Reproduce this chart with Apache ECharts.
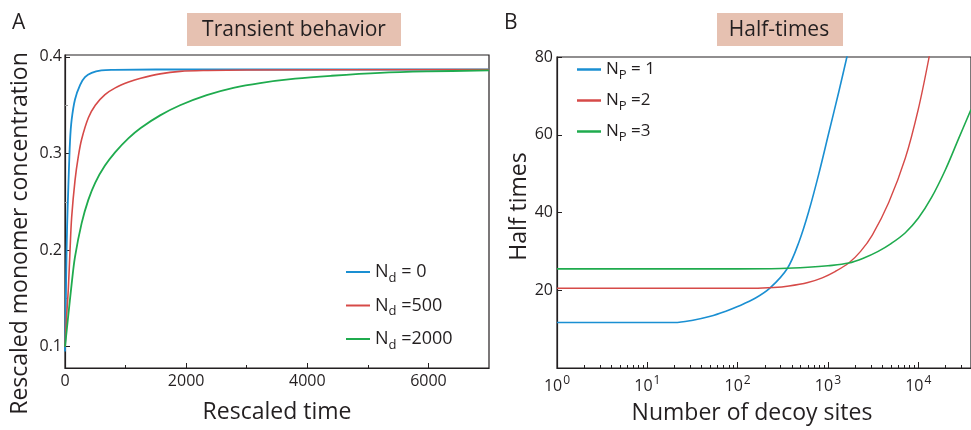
<!DOCTYPE html>
<html>
<head>
<meta charset="utf-8">
<script src="https://cdn.jsdelivr.net/npm/echarts@6/dist/echarts.min.js"></script>
<style>html,body{margin:0;padding:0;background:#fff;}#c{width:971px;height:430px;}</style>
</head>
<body>
<div id="c"></div>
<script>
// ---------- Panel A data: rescaled time vs rescaled monomer concentration ----------
const timeNd0 = [0, 10, 20, 35, 55, 83, 110, 165, 250, 330, 440, 600, 800, 1500, 7000];
const concNd0 = [0.095, 0.13, 0.175, 0.225, 0.265, 0.313, 0.335, 0.356, 0.371, 0.379, 0.3835, 0.386, 0.3866, 0.387, 0.387];

const timeNd500 = [0, 25, 55, 83, 110, 165, 220, 276, 386, 500, 660, 830, 1050, 1250, 1570, 1900, 2350, 3000, 7000];
const concNd500 = [0.10, 0.13, 0.16, 0.20, 0.234, 0.272, 0.297, 0.315, 0.337, 0.350, 0.361, 0.368, 0.374, 0.378, 0.3825, 0.385, 0.386, 0.3865, 0.387];

const timeNd2000 = [0, 50, 110, 165, 275, 385, 500, 660, 830, 1050, 1250, 1570, 1900, 2340, 2780, 3220, 3800, 4400, 5200, 6000, 7000];
const concNd2000 = [0.10, 0.13, 0.165, 0.193, 0.228, 0.252, 0.270, 0.2875, 0.3015, 0.316, 0.3265, 0.3395, 0.350, 0.3605, 0.368, 0.373, 0.3775, 0.3805, 0.3835, 0.385, 0.386];

// ---------- Panel B data: number of decoy sites vs half times ----------
const sitesNp1 = [1, 20, 32, 50, 74, 100, 158, 229, 355, 479, 617, 794, 1023, 1318, 1622, 1778];
const halfNp1  = [11.7, 11.7, 12.3, 13.3, 14.6, 15.8, 18.0, 20.6, 25.6, 32.5, 40.5, 50, 60.5, 71, 80, 84];

const sitesNp2 = [1, 20, 150, 250, 370, 600, 865, 1200, 1700, 2300, 3100, 4700, 7200, 10000, 13200, 14000];
const halfNp2  = [20.5, 20.5, 20.5, 20.7, 21.1, 22.0, 23.2, 24.8, 27.0, 30.0, 34.2, 42.5, 54, 66.5, 80, 84];

const sitesNp3 = [1, 100, 300, 600, 1000, 1700, 2500, 3600, 5000, 7200, 10000, 14000, 20000, 28000, 38400];
const halfNp3  = [25.5, 25.5, 25.6, 25.9, 26.3, 27.0, 28.3, 30.0, 32.0, 34.8, 38.5, 43.8, 51.0, 59, 66.5];

// ---------- Tick labels ----------
const xTicksA = [0, 2000, 4000, 6000];
const xMinorA = [1000, 3000, 5000];
const yTicksA = [0.1, 0.2, 0.3, 0.4];
const yMinorA = [0.15, 0.25, 0.35];
const xTicksB = [1, 10, 100, 1000, 10000];
const xMinorB = [2,3,4,5,6,7,8,9,20,30,40,50,60,70,80,90,200,300,400,500,600,700,800,900,2000,3000,4000,5000,6000,7000,8000,9000,20000,30000];
const yTicksB = [20, 40, 60, 80];

const namesA = ['N_d = 0', 'N_d =500', 'N_d =2000'];
const namesB = ['N_P = 1', 'N_P =2', 'N_P =3'];

const colBlue = '#1a8fd2', colRed = '#d64a48', colGreen = '#1fab4e';
const ink = '#231f20';
const FF = '"Open Sans", "Noto Sans", sans-serif';

function pairs(xs, ys) { return xs.map((x, i) => [x, ys[i]]); }
function legendFmt(name) {
  const m = name.match(/^N_(\w)(.*)$/);
  return 'N{sub|' + m[1] + '}' + m[2];
}
const subRich = { sub: { fontSize: 13, fontFamily: FF, color: ink, padding: [12, 0, 0, 0] } };

const chart = echarts.init(document.getElementById('c'), null, { renderer: 'canvas' });

const lblStyle = { color: ink, fontSize: 16, fontFamily: FF };
const axLine = { show: true, lineStyle: { color: ink, width: 1.2 } };

function lineSeries(name, xi, yi, data, color, width) {
  return { name, type: 'line', xAxisIndex: xi, yAxisIndex: yi, data, showSymbol: false, symbol: 'none',
    smooth: 0.35, lineStyle: { color, width }, itemStyle: { color } };
}

const option = {
  animation: false,
  backgroundColor: '#fff',
  grid: [
    { left: 65, top: 55, width: 424, height: 313, show: true, borderColor: ink, borderWidth: 1.2, containLabel: false },
    { left: 557, top: 57, width: 416, height: 315, show: true, borderColor: ink, borderWidth: 1.2, containLabel: false }
  ],
  xAxis: [
    { gridIndex: 0, type: 'value', min: 0, max: 7000,
      name: 'Rescaled time', nameLocation: 'middle', nameGap: 33,
      nameTextStyle: { fontSize: 23, color: ink, fontFamily: FF },
      axisLine: axLine, splitLine: { show: false },
      axisTick: { inside: true, length: 5, customValues: xTicksA, lineStyle: { color: ink } },
      axisLabel: Object.assign({ customValues: xTicksA, margin: 5, formatter: v => String(v) }, lblStyle) },
    { gridIndex: 0, type: 'value', min: 0, max: 7000, position: 'bottom',
      axisLine: { show: false }, splitLine: { show: false },
      axisTick: { inside: true, length: 3, customValues: xMinorA, lineStyle: { color: ink } },
      axisLabel: { show: false } },
    { gridIndex: 1, type: 'log', logBase: 10, min: 1, max: 38400,
      name: 'Number of decoy sites', nameLocation: 'middle', nameGap: 34,
      nameTextStyle: { fontSize: 23, color: ink, fontFamily: FF, padding: [0, 24, 0, 0] },
      axisLine: axLine, splitLine: { show: false },
      axisTick: { inside: true, length: 6, customValues: xTicksB, lineStyle: { color: ink } },
      axisLabel: { customValues: xTicksB, margin: 7, color: ink, fontSize: 16, fontFamily: FF,
        formatter: v => '10{sup|' + Math.round(Math.log10(v)) + '}',
        rich: { sup: { fontSize: 12, fontFamily: FF, color: ink, padding: [0, 0, 11, 1] } } } },
    { gridIndex: 1, type: 'log', logBase: 10, min: 1, max: 38400, position: 'bottom',
      axisLine: { show: false }, splitLine: { show: false },
      axisTick: { inside: true, length: 3, customValues: xMinorB, lineStyle: { color: ink } },
      axisLabel: { show: false } }
  ],
  yAxis: [
    { gridIndex: 0, type: 'value', min: 0.078, max: 0.402,
      name: 'Rescaled monomer concentration', nameLocation: 'middle', nameGap: 33,
      nameTextStyle: { fontSize: 23, color: ink, fontFamily: FF, padding: [0, 44, 0, 0] },
      axisLine: axLine, splitLine: { show: false },
      axisTick: { inside: true, length: 5, customValues: yTicksA, lineStyle: { color: ink } },
      axisLabel: Object.assign({ customValues: yTicksA, margin: 3, formatter: v => v.toFixed(1) }, lblStyle) },
    { gridIndex: 0, type: 'value', min: 0.078, max: 0.402, position: 'left',
      axisLine: { show: false }, splitLine: { show: false },
      axisTick: { inside: true, length: 3, customValues: yMinorA, lineStyle: { color: '#999' } },
      axisLabel: { show: false } },
    { gridIndex: 1, type: 'value', min: 0, max: 80,
      name: 'Half times', nameLocation: 'middle', nameGap: 26,
      nameTextStyle: { fontSize: 23, color: ink, fontFamily: FF, padding: [0, 0, 0, 12] },
      axisLine: axLine, splitLine: { show: false },
      axisTick: { inside: true, length: 5, customValues: yTicksB, lineStyle: { color: ink } },
      axisLabel: Object.assign({ customValues: yTicksB, margin: 4 }, lblStyle) }
  ],
  legend: [
    { data: namesA, orient: 'vertical', left: 341, top: 258, itemWidth: 24, itemHeight: 2, icon: 'rect',
      itemGap: 12, formatter: legendFmt,
      textStyle: { fontSize: 18, color: ink, fontFamily: FF, rich: subRich } },
    { data: namesB, orient: 'vertical', left: 572, top: 56, itemWidth: 24, itemHeight: 2.5, icon: 'rect',
      itemGap: 10, formatter: legendFmt,
      textStyle: { fontSize: 17, color: ink, fontFamily: FF, rich: subRich } }
  ],
  series: [
    lineSeries(namesA[0], 0, 0, pairs(timeNd0, concNd0), colBlue, 1.8),
    lineSeries(namesA[1], 0, 0, pairs(timeNd500, concNd500), colRed, 1.6),
    lineSeries(namesA[2], 0, 0, pairs(timeNd2000, concNd2000), colGreen, 1.8),
    lineSeries(namesB[0], 2, 2, pairs(sitesNp1, halfNp1), colBlue, 1.6),
    lineSeries(namesB[1], 2, 2, pairs(sitesNp2, halfNp2), colRed, 1.4),
    lineSeries(namesB[2], 2, 2, pairs(sitesNp3, halfNp3), colGreen, 1.6)
  ],
  graphic: [
    { type: 'rect', shape: { x: 187, y: 13, width: 214, height: 33 }, style: { fill: '#e6c1b1' }, silent: true },
    { type: 'text', x: 294, y: 30, style: { text: 'Transient behavior', font: '21px ' + FF, fill: ink, align: 'center', verticalAlign: 'middle' } },
    { type: 'rect', shape: { x: 717, y: 13, width: 126, height: 33 }, style: { fill: '#e6c1b1' }, silent: true },
    { type: 'text', x: 779, y: 30, style: { text: 'Half-times', font: '21px ' + FF, fill: ink, align: 'center', verticalAlign: 'middle' } },
    { type: 'text', x: 12, y: 23, style: { text: 'A', font: '21px ' + FF, fill: ink, align: 'left', verticalAlign: 'middle' } },
    { type: 'text', x: 504, y: 23, style: { text: 'B', font: '21px ' + FF, fill: ink, align: 'left', verticalAlign: 'middle' } }
  ]
};
chart.setOption(option);
</script>
</body>
</html>
